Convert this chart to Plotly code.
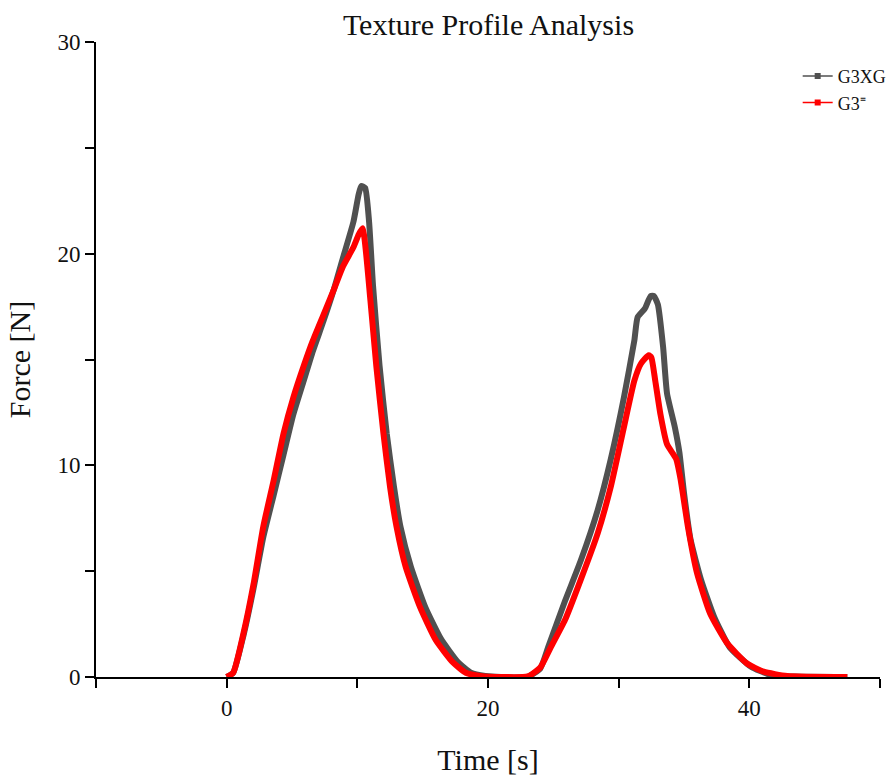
import plotly.graph_objects as go

# Texture profile analysis: force vs. time for two gel formulations
g3xg_time = [0.0, 0.5, 1.3, 2.06, 2.8, 3.6, 4.35, 5.1, 5.9, 6.6, 7.4, 8.2, 8.9, 9.7, 10.1, 10.3, 10.6,
             10.9, 11.2, 11.7, 12.25, 12.8, 13.3, 14.1, 15.2, 16.4, 17.7, 18.7, 19.8, 21.0, 23.0,
             24.0, 24.6, 25.9, 27.1, 28.4, 29.4, 30.4, 31.2, 31.45, 32.0, 32.45, 32.7, 33.0, 33.4,
             33.7, 34.3, 34.65, 35.0, 35.5, 36.3, 37.3, 38.5, 40.1, 41.6, 43.5, 47.5]
g3xg_force = [0.0, 0.2, 2.0, 4.2, 6.6, 8.6, 10.5, 12.4, 14.0, 15.4, 16.8, 18.3, 19.8, 21.5, 22.8, 23.2, 23.1,
              21.5, 18.5, 14.7, 11.5, 9.0, 7.1, 5.2, 3.3, 1.8, 0.7, 0.2, 0.05, 0.0, 0.0,
              0.4, 1.4, 3.6, 5.5, 7.9, 10.3, 13.2, 15.9, 17.0, 17.4, 18.0, 18.0, 17.6, 15.6,
              13.4, 11.8, 10.6, 8.7, 6.5, 4.6, 2.85, 1.4, 0.5, 0.1, 0.02, 0.0]

g3_time = [0.0, 0.5, 1.3, 2.06, 2.8, 3.6, 4.35, 5.1, 5.9, 6.6, 7.4, 8.2, 8.9, 9.7, 10.1, 10.4,
           11.0, 11.45, 12.0, 12.5, 13.0, 13.7, 14.8, 16.0, 17.3, 18.3, 19.4, 21.0, 23.05,
           24.0, 24.8, 25.9, 27.1, 28.4, 29.4, 30.4, 31.2, 31.7, 32.3, 32.5, 32.8, 33.2, 33.7,
           34.4, 34.75, 35.3, 36.0, 37.0, 38.3, 39.8, 41.1, 42.9, 47.5]
g3_force = [0.0, 0.2, 2.1, 4.4, 7.1, 9.3, 11.5, 13.2, 14.7, 15.9, 17.1, 18.3, 19.4, 20.3, 20.9, 21.2,
            17.8, 14.7, 11.5, 9.0, 7.1, 5.2, 3.3, 1.75, 0.7, 0.2, 0.05, 0.0, 0.03,
            0.45, 1.4, 2.7, 4.6, 6.8, 9.0, 11.8, 14.0, 14.8, 15.2, 15.1, 14.0, 12.4, 11.0,
            10.3, 9.3, 7.1, 4.9, 3.0, 1.6, 0.65, 0.25, 0.05, 0.0]

series_names = ["G3XG", "G3⁼"]
series_colors = ["#505050", "#ff0000"]

x_ticks = [-10, 0, 10, 20, 30, 40, 50]
x_labels = ["", "0", "", "20", "", "40", ""]
y_ticks = [0, 5, 10, 15, 20, 25, 30]
y_labels = ["0", "", "10", "", "20", "", "30"]

FONT = "Liberation Serif"

fig = go.Figure()
for (t, f), name, color in zip([(g3xg_time, g3xg_force), (g3_time, g3_force)], series_names, series_colors):
    fig.add_trace(go.Scatter(x=t, y=f, mode="lines",
                             line=dict(color=color, width=6, shape="spline", smoothing=0.5),
                             showlegend=False, hoverinfo="x+y", name=name))

# thin legend samples with square markers
for name, color in zip(series_names, series_colors):
    fig.add_trace(go.Scatter(x=[None], y=[None], mode="lines+markers", name=name,
                             line=dict(color=color, width=1.5),
                             marker=dict(symbol="square", size=6, color=color)))

fig.update_layout(
    width=893, height=776,
    margin=dict(l=96, r=13, t=42, b=99, autoexpand=False),
    paper_bgcolor="white", plot_bgcolor="white",
    font=dict(family=FONT, color="#111111"),
    title=dict(text="Texture Profile Analysis", x=0.547, xanchor="center", y=0.968, yanchor="middle",
               font=dict(family=FONT, size=30, color="#111111")),
    legend=dict(x=0.895, y=0.975, xanchor="left", yanchor="top", bgcolor="rgba(0,0,0,0)",
                font=dict(family=FONT, size=18, color="#111111"), tracegroupgap=0, itemwidth=30),
    xaxis=dict(range=[-10, 50], tickvals=x_ticks, ticktext=x_labels, ticks="outside", ticklen=9,
               tickwidth=2, tickcolor="black", showline=True, linecolor="black", linewidth=2,
               showgrid=False, zeroline=False, tickfont=dict(family=FONT, size=23), automargin=False,
               title=dict(text="Time [s]", font=dict(family=FONT, size=30), standoff=32)),
    yaxis=dict(range=[0, 30], tickvals=y_ticks, ticktext=y_labels, ticks="outside", ticklen=9,
               tickwidth=2, tickcolor="black", showline=True, linecolor="black", linewidth=2,
               showgrid=False, zeroline=False, tickfont=dict(family=FONT, size=23), automargin=False,
               title=dict(text="Force [N]", font=dict(family=FONT, size=30), standoff=18)),
)

fig.write_html("out.html")
